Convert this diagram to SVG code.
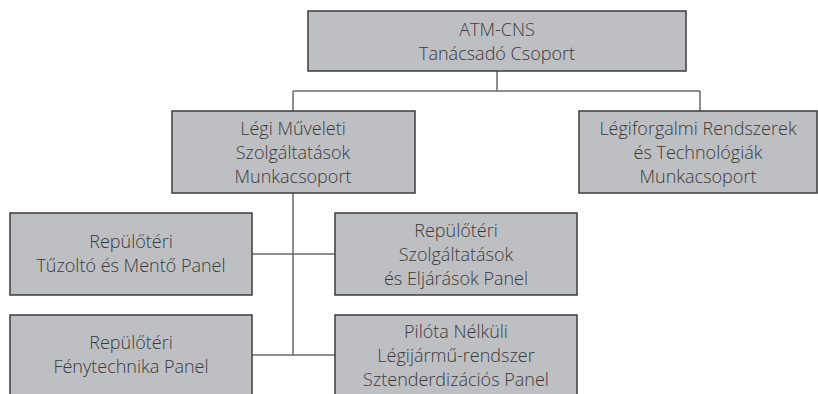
<svg xmlns="http://www.w3.org/2000/svg" width="818" height="394" viewBox="0 0 818 394">
<style>
.box{fill:#bebfc3;stroke:#3c3c3c;stroke-width:1.5}
.lbl{font-family:"Open Sans","Noto Sans",sans-serif;font-size:18px;font-weight:300;fill:#3a3a3a;text-anchor:middle}
.con{fill:none;stroke:#6a6a6a;stroke-width:1.5}
</style>
<rect width="818" height="394" fill="#ffffff"/>
<g id="connectors">
<path class="con" d="M497 71V91M293 91H700M293 91V111M700 91V111"/>
<path class="con" d="M293 193V355M252 254H335M252 355H335"/>
</g>
<g id="atm-cns">
<rect class="box" x="308" y="11" width="378" height="60"/>
<text class="lbl" x="497" y="36">ATM-CNS</text>
<text class="lbl" x="497" y="60">Tanácsadó Csoport</text>
</g>
<g id="legi-muveleti">
<rect class="box" x="172" y="111" width="243" height="82"/>
<text class="lbl" x="293" y="135">Légi Műveleti</text>
<text class="lbl" x="293" y="159">Szolgáltatások</text>
<text class="lbl" x="293" y="183">Munkacsoport</text>
</g>
<g id="legiforgalmi">
<rect class="box" x="579" y="111" width="238" height="82"/>
<text class="lbl" x="698" y="135">Légiforgalmi Rendszerek</text>
<text class="lbl" x="698" y="159">és Technológiák</text>
<text class="lbl" x="698" y="183">Munkacsoport</text>
</g>
<g id="tuzolto">
<rect class="box" x="10" y="213" width="242" height="82"/>
<text class="lbl" x="131" y="248">Repülőtéri</text>
<text class="lbl" x="131" y="272">Tűzoltó és Mentő Panel</text>
</g>
<g id="szolgaltatasok">
<rect class="box" x="335" y="213" width="242" height="82"/>
<text class="lbl" x="456" y="237">Repülőtéri</text>
<text class="lbl" x="456" y="261">Szolgáltatások</text>
<text class="lbl" x="456" y="285">és Eljárások Panel</text>
</g>
<g id="fenytechnika">
<rect class="box" x="10" y="315" width="242" height="82"/>
<text class="lbl" x="131" y="349">Repülőtéri</text>
<text class="lbl" x="131" y="373">Fénytechnika Panel</text>
</g>
<g id="pilota">
<rect class="box" x="335" y="315" width="242" height="82"/>
<text class="lbl" x="456" y="338">Pilóta Nélküli</text>
<text class="lbl" x="456" y="362">Légijármű-rendszer</text>
<text class="lbl" x="456" y="386">Sztenderdizációs Panel</text>
</g>
</svg>
